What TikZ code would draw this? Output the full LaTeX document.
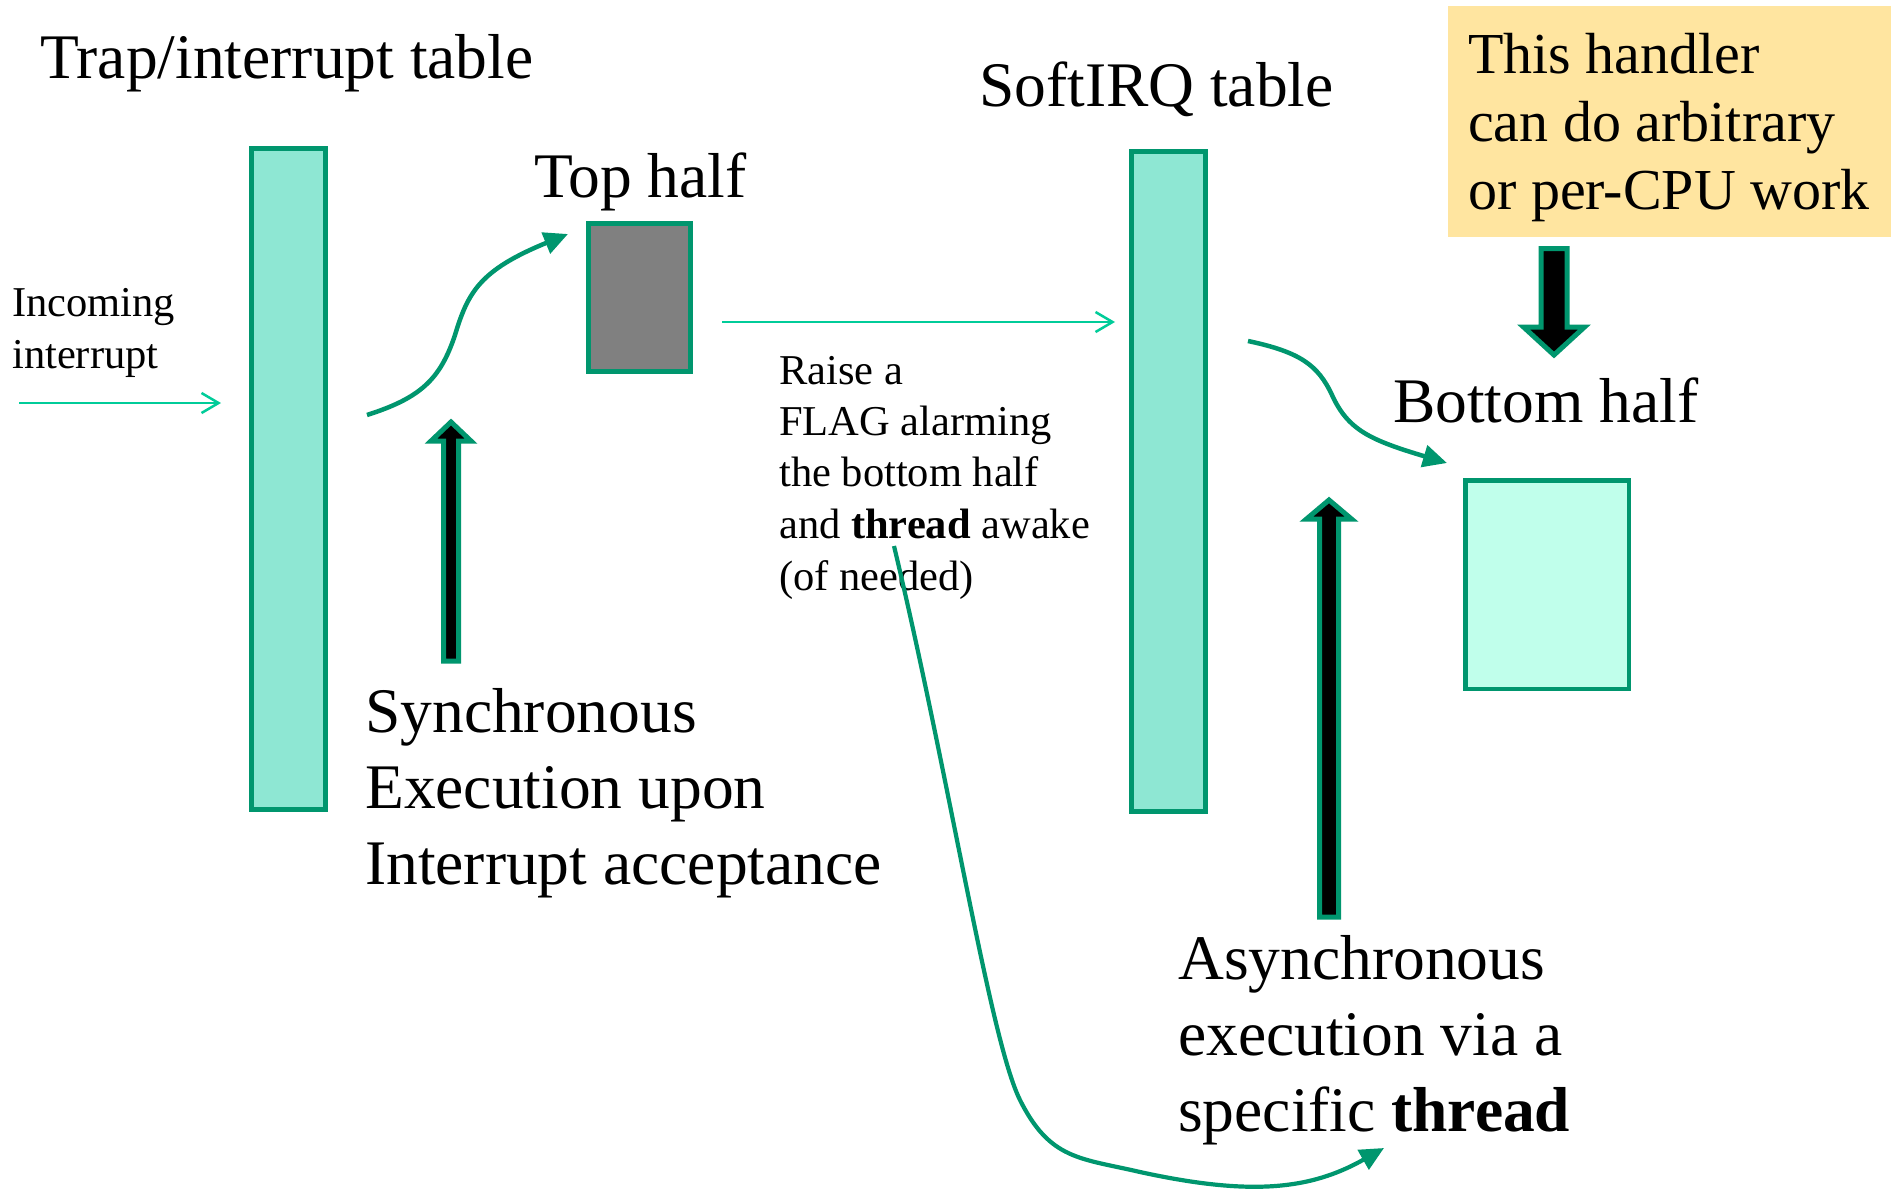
\documentclass[tikz,border=0pt]{standalone}
\usepackage{fontspec}
\setmainfont{Liberation Serif}
\usetikzlibrary{arrows.meta}
\definecolor{dgreen}{HTML}{00966E}
\definecolor{brightgreen}{HTML}{00CC99}
\definecolor{tabfill}{HTML}{8EE7D3}
\definecolor{bhfill}{HTML}{C0FFEB}
\definecolor{tophalf}{HTML}{808080}
\definecolor{notefill}{HTML}{FFE5A0}
\begin{document}
\begin{tikzpicture}[x=1pt,y=-1pt,
  lbl/.style={inner sep=0pt, anchor=base west},
  bigtxt/.style={font=\fontsize{63.5}{76}\selectfont},
  notetxt/.style={font=\fontsize{58}{69}\selectfont},
  smalltxt/.style={font=\fontsize{42.5}{51}\selectfont},
  tablebox/.style={draw=dgreen, line width=5pt, fill=tabfill, inner sep=0pt},
  thinarrow/.style={draw=brightgreen, line width=2.5pt, -{Straight Barb[length=17pt,width=20pt]}},
  curvearrow/.style={draw=dgreen, line width=4.5pt, -{Triangle[length=24pt,width=22pt]}},
  blockarrow/.style={fill=black, draw=dgreen, line width=5pt, line join=miter}]

\fill[white] (0,0) rectangle (1891,1192);
\useasboundingbox (0,0) rectangle (1891,1192);

% boxes
\node[tablebox, minimum width=74pt, minimum height=661pt] (trap) at (288.5,479) {};
\node[tablebox, minimum width=74pt, minimum height=660pt] (soft) at (1168.5,481.5) {};
\node[draw=dgreen, line width=5pt, fill=tophalf, inner sep=0pt, minimum width=102pt, minimum height=148pt] (top) at (639.5,297.5) {};
\node[draw=dgreen, line width=4.5pt, fill=bhfill, inner sep=0pt, minimum width=163.5pt, minimum height=208.5pt] (bottom) at (1547,584.5) {};
\node[fill=notefill, inner sep=0pt, minimum width=443pt, minimum height=231pt] (note) at (1669.5,121.5) {};

% titles
\node[lbl, bigtxt] (traptitle) at (40,78) {Trap/interrupt table};
\node[lbl, bigtxt] (softtitle) at (979,106) {SoftIRQ table};
\node[lbl, bigtxt] (toptitle) at (534,197) {Top half};
\node[lbl, bigtxt] (bottomtitle) at (1393,422) {Bottom half};

% note text
\node[lbl, notetxt] (n1) at (1468,73) {This handler};
\node[lbl, notetxt] (n2) at (1468,141) {can do arbitrary};
\node[lbl, notetxt] (n3) at (1468,209) {or per-CPU work};

% incoming
\node[lbl, smalltxt] (inc1) at (12,316) {Incoming};
\node[lbl, smalltxt] (inc2) at (12,368) {interrupt};

% raise flag
\node[lbl, smalltxt] (r1) at (779,384) {Raise a};
\node[lbl, smalltxt] (r2) at (779,435) {FLAG alarming};
\node[lbl, smalltxt] (r3) at (779,486) {the bottom half};
\node[lbl, smalltxt] (r4) at (779,538) {and \textbf{thread} awake};
\node[lbl, smalltxt] (r5) at (779,590) {(of needed)};

% synchronous
\node[lbl, bigtxt] (s1) at (365,732) {Synchronous};
\node[lbl, bigtxt] (s2) at (365,808) {Execution upon};
\node[lbl, bigtxt] (s3) at (365,884) {Interrupt acceptance};

% asynchronous
\node[lbl, bigtxt] (a1) at (1178,979) {Asynchronous};
\node[lbl, bigtxt] (a2) at (1178,1055) {execution via a};
\node[lbl, bigtxt] (a3) at (1178,1131) {specific \textbf{thread}};

% thin arrows
\coordinate (inA) at (19,403);
\coordinate (inB) at (221,403);
\draw[thinarrow] (inA) -- (inB);
\coordinate (flagA) at (722,322);
\coordinate (flagB) at (1115,322);
\draw[thinarrow] (flagA) -- (flagB);

% curved arrows
\coordinate (c1s) at (367,415);
\coordinate (c1e) at (568,234);
\draw[curvearrow] (c1s) .. controls (420,398) and (440,380) .. (455,335)
  .. controls (468,292) and (480,270) .. (c1e);

\coordinate (c2s) at (1248,341);
\coordinate (c2e) at (1447,463);
\draw[curvearrow] (c2s) .. controls (1300,352) and (1318,365) .. (1332,395)
  .. controls (1348,430) and (1370,440) .. (c2e);

\coordinate (c3s) at (894,546);
\coordinate (c3e) at (1384,1148);
\draw[curvearrow, line width=4.2pt] (c3s) .. controls (950,780) and (990,1040) .. (1020,1100)
  .. controls (1050,1160) and (1080,1158) .. (1140,1172)
  .. controls (1250,1196) and (1310,1190) .. (c3e);

% block arrows
\draw[blockarrow] (443.5,661) -- (443.5,441) -- (431,441) -- (451,422) -- (471,441) -- (458.5,441) -- (458.5,661) -- cycle;
\draw[blockarrow] (1319.5,917) -- (1319.5,519) -- (1306.5,519) -- (1329,500) -- (1351.5,519) -- (1338.5,519) -- (1338.5,917) -- cycle;
\draw[blockarrow] (1541,248.5) -- (1541,327) -- (1523.5,327) -- (1554,355) -- (1584.5,327) -- (1567,327) -- (1567,248.5) -- cycle;

\end{tikzpicture}
\end{document}
